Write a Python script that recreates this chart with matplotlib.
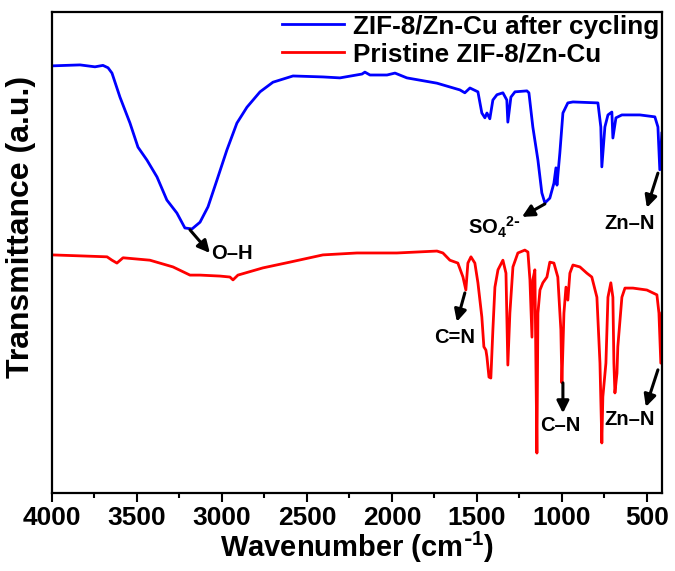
import matplotlib
matplotlib.use('Agg')
from matplotlib import pyplot as plt
from matplotlib.ticker import MultipleLocator

plt.rcParams['font.family'] = ['Liberation Sans', 'DejaVu Sans']
plt.rcParams['font.weight'] = 'bold'
plt.rcParams['mathtext.default'] = 'regular'

# Spektrum etter sykling (blaa)
wn_after = [4000, 3835, 3747, 3700, 3670, 3647, 3600, 3541, 3494, 3441, 3382, 3324, 3265, 3218,
            3176, 3129, 3082, 3029, 2971, 2912, 2853, 2776, 2700, 2582, 2406, 2306, 2176,
            2159, 2129, 2029, 1982, 1912, 1735, 1600, 1571, 1541, 1494, 1471, 1453, 1441,
            1424, 1406, 1382, 1347, 1324, 1318, 1300, 1276, 1206, 1194, 1171, 1141, 1118,
            1100, 1071, 1047, 1035, 1029, 1012, 994, 965, 935, 788, 771, 765, 747, 729,
            706, 700, 682, 647, 541, 453, 435, 424, 412]
t_after = [88.8, 89.0, 88.6, 88.9, 88.4, 87.3, 82.3, 76.9, 71.9, 69.2, 65.7, 60.9, 58.2, 55.1,
           54.9, 56.3, 59.5, 65.1, 71.3, 76.9, 80.2, 83.4, 85.4, 86.7, 86.5, 86.3, 87.1,
           87.5, 86.9, 86.9, 87.3, 86.3, 85.2, 83.8, 83.2, 84.2, 83.4, 79.0, 78.0, 79.0,
           77.8, 81.7, 82.8, 83.2, 81.7, 77.1, 82.3, 83.4, 83.6, 83.2, 76.1, 69.2, 62.4,
           60.3, 61.3, 64.4, 67.6, 64.0, 70.7, 79.0, 81.1, 81.3, 81.1, 76.1, 67.8, 76.1,
           78.6, 79.2, 73.8, 78.0, 78.6, 78.6, 78.2, 76.1, 67.2, 74.8]

# Rent spektrum (roedt)
wn_pristine = [4000, 3835, 3676, 3647, 3618, 3582, 3424, 3288, 3188, 3129, 3012, 2953, 2935,
               2906, 2759, 2600, 2406, 2206, 1971, 1735, 1700, 1659, 1612, 1582, 1565, 1553,
               1535, 1512, 1494, 1471, 1459, 1447, 1441, 1429, 1418, 1406, 1394, 1376, 1347,
               1329, 1318, 1306, 1288, 1259, 1218, 1200, 1188, 1176, 1171, 1159, 1147, 1141,
               1129, 1112, 1088, 1071, 1047, 1024, 1006, 1000, 988, 976, 965, 953, 935, 894,
               853, 824, 794, 776, 765, 759, 741, 729, 712, 700, 694, 688, 676, 671, 647,
               629, 582, 500, 441, 429, 418, 412]
t_pristine = [49.5, 49.3, 49.1, 48.4, 47.8, 48.9, 48.4, 47.0, 45.3, 45.3, 45.1, 44.9, 44.3,
              45.3, 46.8, 48.0, 49.5, 49.9, 49.9, 50.3, 49.9, 48.4, 47.8, 44.9, 42.2, 47.8,
              49.1, 47.8, 43.7, 36.6, 30.4, 29.7, 28.3, 24.1, 23.9, 33.9, 42.8, 46.4, 48.4,
              45.7, 26.6, 37.4, 47.0, 49.9, 50.5, 50.1, 44.3, 32.4, 44.3, 46.4, 8.3, 37.4,
              42.2, 43.7, 44.9, 48.0, 47.8, 44.9, 33.9, 22.9, 37.4, 42.8, 40.1, 45.7, 47.4,
              47.0, 45.7, 44.9, 40.7, 27.0, 10.4, 20.0, 27.0, 40.7, 43.7, 40.7, 27.0, 20.8,
              24.9, 30.4, 40.7, 42.6, 42.6, 42.2, 41.2, 37.4, 27.0, 37.4]

# Merkelapper: tekst, tekstposisjon, pil fra, pil til
labels = ['O\u2013H', r'SO$_4$$^{2\text{-}}$', 'Zn\u2013N', 'C=N', 'C\u2013N', 'Zn\u2013N']
label_pos = [(3065, 49.7), (1553, 55.3), (750, 56.1), (1750, 32.4), (1129, 14.1), (750, 15.2)]
arrow_from = [(3188, 54.7), (1100, 60.1), (435, 66.5), (1571, 41.6), (994, 22.9), (435, 25.6)]
arrow_to = [(3071, 49.9), (1235, 57.4), (500, 59.3), (1618, 35.6), (994, 16.6), (506, 17.9)]

fig = plt.figure(figsize=(6.75, 5.71), dpi=100)
ax = fig.add_axes([0.077, 0.1366, 0.904, 0.8424])

ax.plot(wn_after, t_after, color='#0000ff', lw=2.0, label='ZIF-8/Zn-Cu after cycling')
ax.plot(wn_pristine, t_pristine, color='#ff0000', lw=2.0, label='Pristine ZIF-8/Zn-Cu')

for txt, pos, a, b in zip(labels, label_pos, arrow_from, arrow_to):
    ax.annotate('', xy=b, xytext=a,
                arrowprops=dict(arrowstyle='-|>', color='black', lw=2.2, mutation_scale=18,
                                shrinkA=0, shrinkB=0))
    ax.text(pos[0], pos[1], txt, fontsize=14.5, fontweight='bold', ha='left', va='center')

ax.set_xlim(4000, 410)
ax.set_ylim(0, 100)
ax.set_yticks([])
ax.xaxis.set_major_locator(MultipleLocator(500))
ax.xaxis.set_minor_locator(MultipleLocator(250))
ax.tick_params(axis='x', which='major', direction='out', length=6.5, width=1.5,
               labelsize=19, pad=3)
ax.tick_params(axis='x', which='minor', direction='out', length=3.5, width=1.5)
for s in ax.spines.values():
    s.set_linewidth(1.6)

ax.set_xlabel(r'Wavenumber (cm$^{\text{-}1}$)', fontsize=21, fontweight='bold', labelpad=0)
ax.set_ylabel('Transmittance (a.u.)', fontsize=23, fontweight='bold')
ax.yaxis.set_label_coords(-0.026, 0.553)

ax.legend(loc='upper right', frameon=False, fontsize=18.8, handlelength=2.4,
          handletextpad=0.35, labelspacing=0.15, borderaxespad=0.05, borderpad=0.05)

plt.savefig('out.png', dpi=100)
